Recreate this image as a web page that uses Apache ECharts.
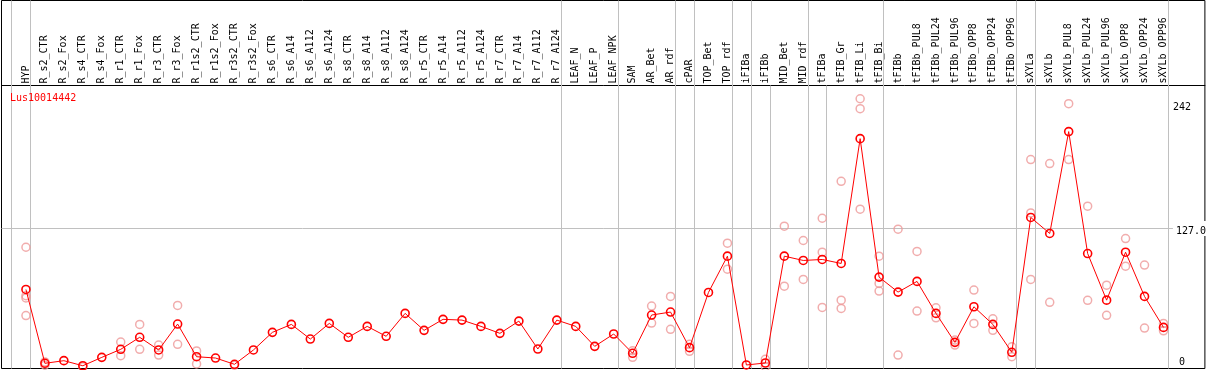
<!DOCTYPE html>
<html>
<head>
<meta charset="utf-8">
<script src="https://cdn.jsdelivr.net/npm/echarts@6/dist/echarts.min.js"></script>
<style>
    html, body { margin: 0; padding: 0; background: #fff; }
    #main { width: 1209px; height: 370px; }
</style>
</head>
<body>
<div id="main"></div>
<script>
var geneName = 'Lus10014442';

var categories = ['HYP', 'R_s2_CTR', 'R_s2_Fox', 'R_s4_CTR', 'R_s4_Fox', 'R_r1_CTR', 'R_r1_Fox',
    'R_r3_CTR', 'R_r3_Fox', 'R_r1s2_CTR', 'R_r1s2_Fox', 'R_r3s2_CTR', 'R_r3s2_Fox',
    'R_s6_CTR', 'R_s6_A14', 'R_s6_A112', 'R_s6_A124', 'R_s8_CTR', 'R_s8_A14', 'R_s8_A112', 'R_s8_A124',
    'R_r5_CTR', 'R_r5_A14', 'R_r5_A112', 'R_r5_A124', 'R_r7_CTR', 'R_r7_A14', 'R_r7_A112', 'R_r7_A124',
    'LEAF_N', 'LEAF_P', 'LEAF_NPK', 'SAM', 'AR_Bet', 'AR_rdf', 'cPAR', 'TOP_Bet', 'TOP_rdf',
    'iFIBa', 'iFIBb', 'MID_Bet', 'MID_rdf', 'tFIBa', 'tFIB_Gr', 'tFIB_Li', 'tFIB_Bi',
    'tFIBb', 'tFIBb_PUL8', 'tFIBb_PUL24', 'tFIBb_PUL96', 'tFIBb_OPP8', 'tFIBb_OPP24', 'tFIBb_OPP96',
    'sXYLa', 'sXYLb', 'sXYLb_PUL8', 'sXYLb_PUL24', 'sXYLb_PUL96', 'sXYLb_OPP8', 'sXYLb_OPP24', 'sXYLb_OPP96'];

// mean expression per sample
var meanValues = [71.7, 4.7, 7.1, 2.5, 10.1, 17.4, 28.3, 16.8, 40.3, 10.7, 9.5, 3.8, 16.8,
    32.8, 40, 26.7, 40.9, 28.3, 38.2, 29.2, 50,
    34.6, 44.6, 43.9, 38.2, 31.9, 43, 17.7, 43.9,
    38.2, 20.1, 31.3, 13.8, 48.5, 51.2, 18.9, 69, 101.9,
    3.2, 5, 101.9, 98, 98.9, 95.3, 208.5, 82.9,
    69.3, 79, 50, 23.7, 56, 40, 14.7,
    137, 122.5, 214.9, 104.3, 62, 105.5, 65.4, 37.3];

// single replicates (faint circles)
var replicates = [[110, 66, 64, 48], [6, 3], [], [1.5], [], [24, 11.6], [40, 17.4],
    [21.3, 12.2], [57.2, 21.9], [15.9, 4.1], [], [3], [],
    [], [], [], [], [], [], [], [],
    [], [], [], [], [], [], [], [],
    [], [], [], [16.1, 10.1], [56.6, 41.2], [65.4, 35.5], [21.9, 15.6], [], [113.7, 90.1],
    [], [8.3, 1.6], [129.1, 74.7], [116.1, 80.8], [136.3, 105.5, 55.4], [169.8, 62, 54.5],
    [244.7, 235.7, 144.5], [101.9, 77.2, 70.2],
    [126.4, 12.2], [106.2, 52.1], [55.1, 46], [25.8, 21.3], [71.1, 40.9], [45.1, 34.6], [19.7, 10.7],
    [189.5, 141.1, 80.8], [185.9, 60], [240.2, 189.5], [147.2, 61.8], [75.6, 48.2], [117.9, 92.8],
    [93.8, 36.7], [40.9, 34.2]];

// group separators: drawn after these sample indices
var fullBreaks = [-1, 0, 28, 31, 34, 35, 37, 38, 41, 45, 52, 53, 60];
var plotBreaks = [39, 42];

var yTickValues = [0, 127, 242];
var yTickLabels = ['0', '127.0', '242'];
var yGridValues = [127];

// layout
var W = 1209, H = 370;
var gLeft = 1.5, gRight = 1.5, gTop = 0.5, gBottom = 1.5;
var step = 19, firstX = 26, breakShift = 4.5;
var headerLine = 85.5;
var pxPerUnit = 140 / 127;
var gW = W - gLeft - gRight, gH = H - gTop - gBottom;
var xMin = -(firstX - gLeft) / step;
var xMax = xMin + gW / step;
var yMax = gH / pxPerUnit;
var yHeader = (H - gBottom - headerLine) / pxPerUnit;

var mono = 'DejaVu Sans Mono';

var myChart = echarts.init(document.getElementById('main'));

var meanData = [];
for (let i = 0; i < meanValues.length; i++) {
    meanData.push([i, meanValues[i]]);
}
var repData = [];
for (let i = 0; i < replicates.length; i++) {
    for (let j = 0; j < replicates[i].length; j++) {
        repData.push([i, replicates[i][j]]);
    }
}
var lineMarks = [];
fullBreaks.forEach(function (b) {
    lineMarks.push({ xAxis: b + breakShift / step });
});
plotBreaks.forEach(function (b) {
    lineMarks.push([{ coord: [b + breakShift / step, 0] }, { coord: [b + breakShift / step, yHeader] }]);
});
yGridValues.forEach(function (v) {
    lineMarks.push({ yAxis: v });
});

var option = {
    animation: false,
    backgroundColor: '#fff',
    title: {
        text: geneName,
        left: 10,
        top: 93,
        padding: 0,
        textStyle: { color: '#ff0000', fontFamily: mono, fontSize: 10, fontWeight: 'normal' }
    },
    grid: {
        left: gLeft, right: gRight, top: gTop, bottom: gBottom,
        show: true, borderColor: '#000', borderWidth: 1, backgroundColor: '#fff'
    },
    xAxis: {
        type: 'value',
        min: xMin,
        max: xMax,
        position: 'top',
        offset: -(headerLine - gTop),
        axisLine: { show: true, onZero: false, lineStyle: { color: '#000', width: 1 } },
        axisTick: { show: false },
        splitLine: { show: false },
        axisLabel: {
            customValues: categories.map(function (c, i) { return i; }),
            formatter: function (v) { return categories[v]; },
            rotate: -90,
            margin: 2,
            color: '#000',
            fontFamily: mono,
            fontSize: 10
        }
    },
    yAxis: {
        type: 'value',
        min: 0,
        max: yMax,
        position: 'right',
        z: 3,
        axisLine: { show: false },
        axisTick: { show: false },
        splitLine: { show: false },
        axisLabel: {
            customValues: yTickValues,
            inside: true,
            margin: 32,
            align: 'left',
            color: '#000',
            fontFamily: mono,
            fontSize: 10,
            formatter: function (v) {
                var k = yTickValues.indexOf(v);
                return '{t' + k + '|' + yTickLabels[k] + '}';
            },
            rich: {
                t0: { fontFamily: mono, fontSize: 10, color: '#000', padding: [0, 0, 12, 6] },
                t1: { fontFamily: mono, fontSize: 10, color: '#000', padding: [5, 0, 0, 3], backgroundColor: '#fff' },
                t2: { fontFamily: mono, fontSize: 10, color: '#000', padding: [11, 0, 0, 0] }
            }
        }
    },
    series: [
        {
            name: 'grid',
            type: 'line',
            data: [],
            silent: true,
            markLine: {
                z: 1,
                silent: true,
                symbol: 'none',
                label: { show: false },
                emphasis: { disabled: true },
                lineStyle: { color: '#c0c0c0', width: 1, type: 'solid' },
                data: lineMarks
            }
        },
        {
            name: 'replicates',
            type: 'scatter',
            symbol: 'circle',
            symbolSize: 8,
            clip: false,
            itemStyle: { color: 'rgba(0,0,0,0)', borderColor: '#ee9898', borderWidth: 1.5 },
            data: repData
        },
        {
            name: geneName,
            type: 'line',
            symbol: 'circle',
            symbolSize: 8,
            clip: false,
            lineStyle: { color: '#ff0000', width: 1 },
            itemStyle: { color: 'rgba(0,0,0,0)', borderColor: '#ff0000', borderWidth: 1.6 },
            data: meanData
        }
    ]
};

option && myChart.setOption(option);
</script>
</body>
</html>
